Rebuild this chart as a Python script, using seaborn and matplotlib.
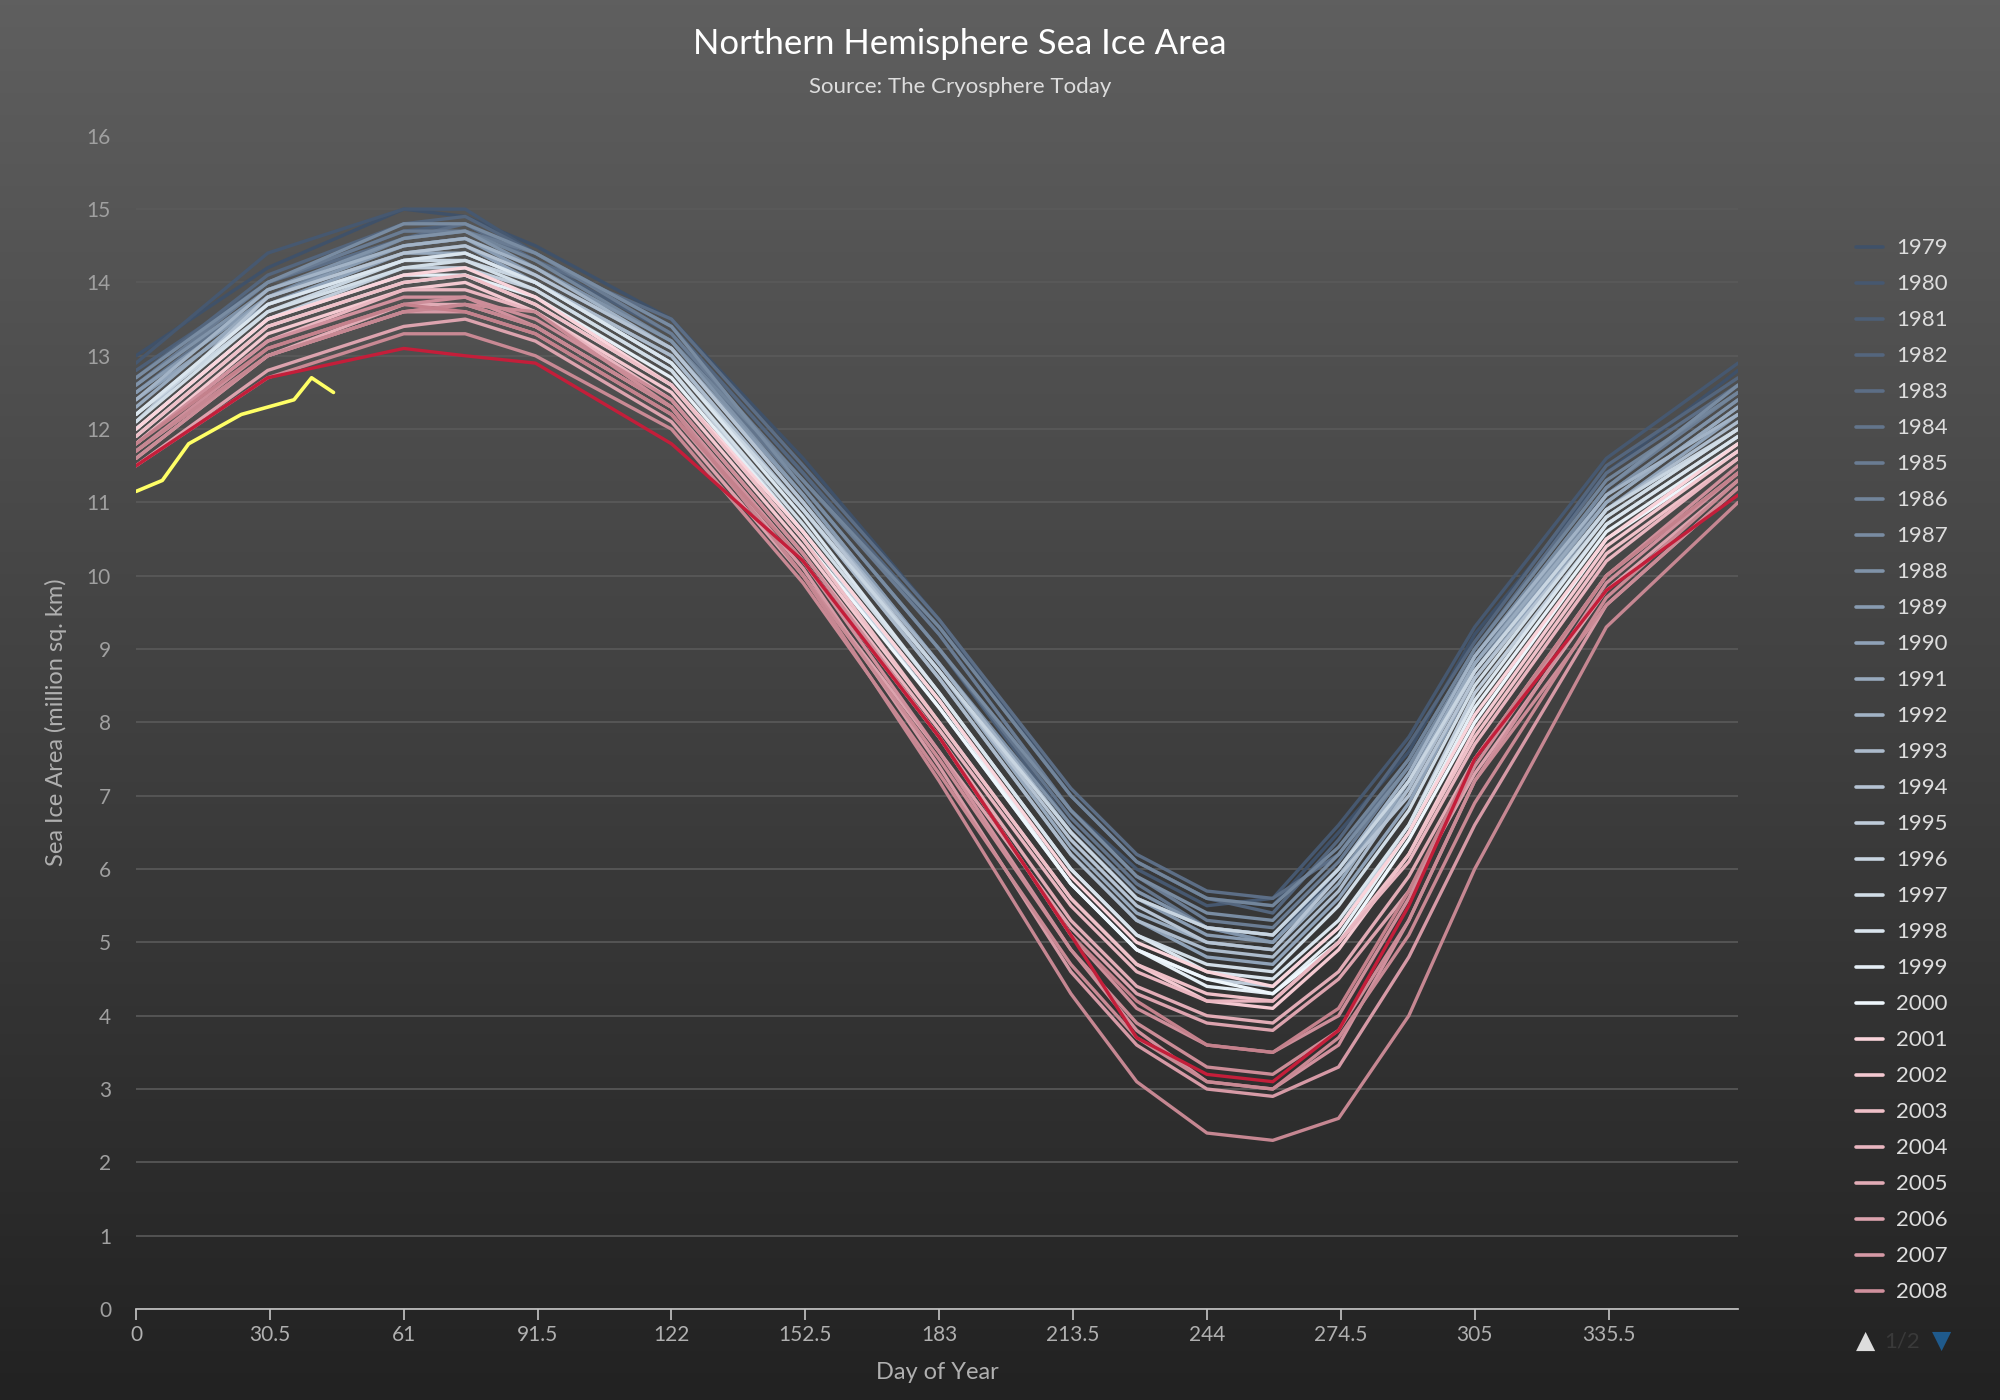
import numpy as np
import pandas as pd
import matplotlib
matplotlib.use("Agg")
import matplotlib.pyplot as plt
import seaborn as sns
from matplotlib.colors import LinearSegmentedColormap, to_hex
from matplotlib.lines import Line2D

days = [0, 30, 61, 75, 91, 122, 152, 183, 213, 228, 244, 259, 274, 290, 305, 335, 365]
area = {
1979: [13.0,14.2,15.0,14.9,14.5,13.5,11.6,9.4,7.0,6.1,5.6,5.5,6.5,7.6,9.2,11.4,12.8],
1980: [12.9,14.4,15.0,15.0,14.4,13.4,11.4,9.2,6.8,6.0,5.5,5.6,6.6,7.8,9.3,11.6,12.9],
1981: [12.8,14.0,14.7,14.8,14.3,13.3,11.2,9.0,6.6,5.7,5.2,5.0,6.0,7.3,8.8,11.2,12.6],
1982: [12.7,14.1,14.8,14.9,14.4,13.4,11.4,9.3,7.0,6.1,5.6,5.4,6.4,7.7,9.1,11.5,12.7],
1983: [12.6,14.0,14.6,14.8,14.3,13.5,11.5,9.4,7.1,6.2,5.7,5.6,6.2,7.5,9.0,11.4,12.6],
1984: [12.5,13.9,14.5,14.6,14.2,13.2,11.2,9.0,6.7,5.8,5.2,5.1,6.0,7.2,8.7,11.1,12.4],
1985: [12.6,14.0,14.7,14.7,14.4,13.3,11.3,9.2,6.8,5.9,5.3,5.2,6.1,7.4,8.9,11.2,12.5],
1986: [12.5,13.8,14.6,14.7,14.3,13.2,11.3,9.3,7.0,6.1,5.6,5.5,6.3,7.5,9.0,11.3,12.5],
1987: [12.7,14.0,14.8,14.8,14.4,13.4,11.2,9.0,6.8,5.9,5.4,5.3,6.2,7.4,8.9,11.2,12.6],
1988: [12.6,13.9,14.6,14.7,14.2,13.2,11.1,8.8,6.6,5.7,5.2,5.0,5.9,7.2,8.8,11.1,12.4],
1989: [12.5,13.8,14.5,14.6,14.1,13.1,11.1,8.8,6.5,5.6,5.1,5.0,5.9,7.1,8.7,11.0,12.3],
1990: [12.4,13.7,14.4,14.5,14.0,13.0,10.9,8.6,6.2,5.3,4.8,4.7,5.6,6.9,8.6,10.9,12.2],
1991: [12.3,13.8,14.4,14.4,14.0,12.9,10.9,8.7,6.3,5.4,5.0,4.9,5.8,7.2,8.8,11.0,12.3],
1992: [12.4,13.9,14.5,14.6,14.2,13.1,11.0,8.8,6.5,5.6,5.2,5.1,6.0,7.3,8.9,11.1,12.2],
1993: [12.2,13.7,14.3,14.4,14.0,13.0,10.9,8.6,6.2,5.3,4.9,4.8,5.7,7.1,8.7,10.9,12.1],
1994: [12.1,13.8,14.4,14.5,14.1,13.1,11.0,8.7,6.4,5.5,5.0,4.9,5.9,7.0,8.6,10.8,12.0],
1995: [12.0,13.5,14.2,14.2,13.9,12.8,10.6,8.2,5.8,4.9,4.5,4.4,5.2,6.6,8.4,10.7,11.9],
1996: [12.2,13.6,14.3,14.3,14.0,12.9,10.9,8.7,6.5,5.6,5.2,5.1,6.0,7.2,8.7,10.9,12.0],
1997: [12.1,13.6,14.2,14.3,13.9,12.8,10.7,8.4,6.0,5.1,4.7,4.6,5.5,6.8,8.5,10.8,12.0],
1998: [12.2,13.7,14.3,14.4,14.0,12.9,10.8,8.4,6.0,5.1,4.6,4.5,5.3,6.6,8.3,10.7,11.9],
1999: [12.0,13.5,14.1,14.1,13.8,12.7,10.6,8.3,5.8,4.9,4.4,4.3,5.1,6.5,8.2,10.6,11.8],
2000: [11.9,13.4,14.0,14.1,13.7,12.6,10.5,8.2,5.8,4.9,4.5,4.3,5.0,6.4,8.0,10.5,11.7],
2001: [12.0,13.5,14.1,14.2,13.8,12.6,10.6,8.3,5.9,5.0,4.6,4.4,5.2,6.5,8.1,10.5,11.8],
2002: [11.8,13.3,13.9,14.0,13.6,12.5,10.4,8.0,5.6,4.7,4.2,4.1,4.9,6.2,7.9,10.4,11.7],
2003: [11.9,13.4,14.0,14.1,13.7,12.6,10.5,8.0,5.6,4.7,4.3,4.2,5.0,6.2,7.8,10.3,11.6],
2004: [11.8,13.2,13.9,13.9,13.6,12.4,10.3,7.9,5.5,4.6,4.2,4.2,5.0,6.1,7.7,10.2,11.6],
2005: [11.6,13.0,13.7,13.7,13.4,12.3,10.2,7.8,5.3,4.4,4.0,3.9,4.6,5.9,7.5,10.0,11.4],
2006: [11.5,12.8,13.4,13.5,13.2,12.1,10.0,7.6,5.2,4.3,3.9,3.8,4.5,5.7,7.3,9.8,11.3],
2007: [11.7,13.0,13.6,13.6,13.3,12.2,10.1,7.4,4.6,3.6,3.0,2.9,3.3,4.8,6.6,9.6,11.2],
2008: [11.8,13.2,13.8,13.8,13.4,12.3,10.2,7.6,4.9,3.8,3.1,3.0,3.6,5.3,7.2,9.9,11.4],
2009: [11.7,13.1,13.7,13.8,13.5,12.4,10.3,7.8,5.1,4.1,3.6,3.5,4.0,5.6,7.4,10.0,11.5],
2010: [11.6,13.0,13.6,13.7,13.6,12.3,10.0,7.5,4.9,3.9,3.3,3.2,3.8,5.3,7.2,9.6,11.2],
2011: [11.5,12.7,13.3,13.3,13.0,12.0,9.9,7.3,4.7,3.7,3.1,3.0,3.7,5.1,6.9,9.7,11.3],
2012: [11.7,13.0,13.6,13.7,13.4,12.3,10.0,7.2,4.3,3.1,2.4,2.3,2.6,4.0,6.0,9.3,11.0],
2013: [11.8,13.1,13.7,13.6,13.3,12.2,10.2,7.8,5.1,4.2,3.6,3.5,4.1,5.7,7.5,10.0,11.4],
2014: [11.5,12.7,13.1,13.0,12.9,11.8,10.2,7.8,5.1,3.7,3.2,3.1,3.8,5.5,7.5,9.8,11.1],
}
days_2015 = [0, 6, 12, 18, 24, 30, 36, 40, 45]
area_2015 = [11.15, 11.3, 11.8, 12.0, 12.2, 12.3, 12.4, 12.7, 12.5]
legend_years = list(range(1979, 2009))
xticks = [0, 30.5, 61, 91.5, 122, 152.5, 183, 213.5, 244, 274.5, 305, 335.5]

rows = [(y, d, v) for y, vals in area.items() for d, v in zip(days, vals)]
df = pd.DataFrame(rows, columns=["year", "day", "area"])

years = list(area.keys())
cmap = LinearSegmentedColormap.from_list("ice", [
    (0.0, "#3f5169"), (11/35, "#8fa2b8"), (21/35, "#eef6fc"),
    (22/35, "#fbd3da"), (29/35, "#d0909d"), (34/35, "#c4858f"), (1.0, "#c41e3a")])
palette = {y: to_hex(cmap(i / 35)) for i, y in enumerate(years)}

sns.set_theme(style="dark")
plt.rcParams['font.family'] = ['Lato', 'DejaVu Sans']
fig = plt.figure(figsize=(20, 14), dpi=100)
bg = fig.add_axes([0, 0, 1, 1], zorder=-10)
grad = np.linspace(0, 1, 256).reshape(-1, 1)
bg.imshow(grad, aspect="auto", cmap=LinearSegmentedColormap.from_list("bg", ["#5f5f5f", "#222222"]),
          extent=[0, 1, 0, 1])
bg.axis("off")

ax = fig.add_axes([0.068, 0.065, 0.801, 0.838])
ax.patch.set_alpha(0)
sns.lineplot(data=df, x="day", y="area", hue="year", palette=palette, linewidth=2.4,
             ax=ax, legend=False, estimator=None)
ax.plot(days_2015, area_2015, color="#ffff66", linewidth=2.6, zorder=5)

ax.set_xlim(0, 365)
ax.set_ylim(0, 16)
ax.set_yticks(range(0, 17))
ax.set_xticks(xticks)
ax.set_xticklabels([("%g" % t) for t in xticks])
ax.grid(axis="y", color="#5a5a5a", linewidth=1.2)
ax.grid(axis="x", visible=False)
for s in ["top", "right", "left"]:
    ax.spines[s].set_visible(False)
ax.spines["bottom"].set_color("#c0c0c0")
ax.tick_params(axis="x", colors="#b0b0b0", labelsize=15, length=8, direction="out", bottom=True, color="#c0c0c0")
ax.tick_params(axis="y", colors="#a0a0a0", labelsize=15, length=0, pad=18)
ax.set_xlabel("Day of Year", color="#b0b0b0", fontsize=17, labelpad=12)
ax.set_ylabel("Sea Ice Area (million sq. km)", color="#b0b0b0", fontsize=17, labelpad=14)

fig.text(0.48, 0.980, "Northern Hemisphere Sea Ice Area", ha="center", va="top", color="white", fontsize=25)
fig.text(0.48, 0.945, "Source: The Cryosphere Today", ha="center", va="top", color="#dddddd", fontsize=16)

handles = [Line2D([0], [0], color=palette[y], linewidth=2.6) for y in legend_years]
leg = fig.legend(handles, [str(y) for y in legend_years], loc="upper left",
                 bbox_to_anchor=(0.918, 0.844), frameon=False, fontsize=16,
                 handlelength=1.2, labelspacing=0.72, handletextpad=0.6)
for t in leg.get_texts():
    t.set_color("#dddddd")
fig.text(0.928, 0.042, "▲", color="#dddddd", fontsize=18, ha="left", va="center", family="DejaVu Sans")
fig.text(0.942, 0.042, "1/2", color="#3a3a3a", fontsize=16, ha="left", va="center")
fig.text(0.966, 0.042, "▼", color="#1f5a8c", fontsize=18, ha="left", va="center", family="DejaVu Sans")

fig.savefig("out.png", dpi=100)
